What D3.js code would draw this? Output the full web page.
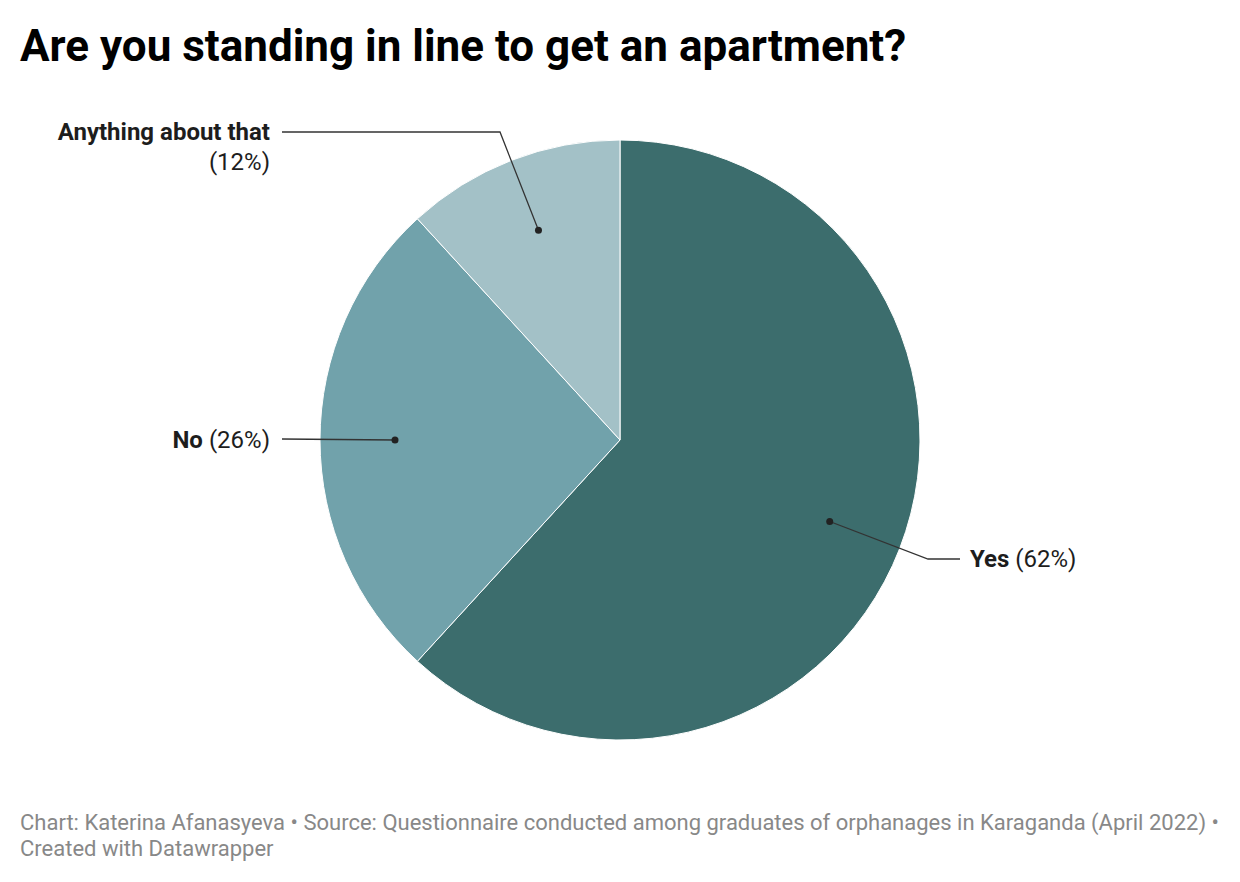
<!DOCTYPE html>
<html><head><meta charset="utf-8">
<script src="https://cdn.jsdelivr.net/npm/d3@7"></script>
<style>
html,body{margin:0;padding:0;background:#fff;}
svg{display:block;font-family:Roboto, "Noto Sans", sans-serif;}
</style></head>
<body>
<svg id="chart" width="1240" height="882"></svg>
<script>
const categories = ["Yes", "No", "Anything about that"];
const values = [61.8, 26.4, 11.8];
const colors = ["#3c6d6d", "#71a2ab", "#a3c1c7"];
const titleText = "Are you standing in line to get an apartment?";
const footerLines = [
  "Chart: Katerina Afanasyeva • Source: Questionnaire conducted among graduates of orphanages in Karaganda (April 2022) •",
  "Created with Datawrapper"
];

const svg = d3.select("#chart");
svg.append("text").attr("x", 20).attr("y", 61)
  .attr("font-size", 44).attr("font-weight", 700).attr("fill", "#000")
  .text(titleText);

const cx = 620, cy = 440, R = 300;
const g = svg.append("g").attr("transform", `translate(${cx},${cy})`);
const pie = d3.pie().sort(null).value(d => d)(values);
const arc = d3.arc().innerRadius(0).outerRadius(R);
g.selectAll("path.slice").data(pie).join("path")
  .attr("class", "slice")
  .attr("d", arc)
  .attr("fill", (d, i) => colors[i])
  .attr("stroke", "#fff").attr("stroke-width", 1);

const pct = v => `${Math.round(v)}%`;
const dotArc = d3.arc().innerRadius(225).outerRadius(225);
const labels = [
  {i: 0, elbow: [928, 559], end: [960, 559], anchor: "start", tx: 970, lines: [[categories[0], ` (${pct(values[0])})`]], ty: 567},
  {i: 1, elbow: null, end: [282, 439], anchor: "end", tx: 270, lines: [[categories[1], ` (${pct(values[1])})`]], ty: 448},
  {i: 2, elbow: [500, 132], end: [282, 132], anchor: "end", tx: 270, lines: [[categories[2], ""], ["", `(${pct(values[2])})`]], ty: 140}
];
labels.forEach(l => {
  const c = dotArc.centroid(pie[l.i]);
  const p = [cx + c[0], cy + c[1]];
  const pts = [p];
  if (l.elbow) pts.push(l.elbow);
  pts.push(l.end);
  svg.append("path").attr("d", d3.line()(pts))
    .attr("fill", "none").attr("stroke", "#333").attr("stroke-width", 1.3);
  svg.append("circle").attr("cx", p[0]).attr("cy", p[1]).attr("r", 3.5).attr("fill", "#222");
  l.lines.forEach((ln, k) => {
    const t = svg.append("text").attr("x", l.tx).attr("y", l.ty + k * 30)
      .attr("text-anchor", l.anchor).attr("font-size", 24).attr("fill", "#1d1d1d");
    if (ln[0]) t.append("tspan").attr("font-weight", 700).text(ln[0]);
    if (ln[1]) t.append("tspan").attr("font-weight", 400).text(ln[1]);
  });
});

footerLines.forEach((f, k) => {
  svg.append("text").attr("x", 20).attr("y", 830 + k * 26)
    .attr("font-size", 22).attr("fill", "#888").text(f);
});
</script>
</body></html>
